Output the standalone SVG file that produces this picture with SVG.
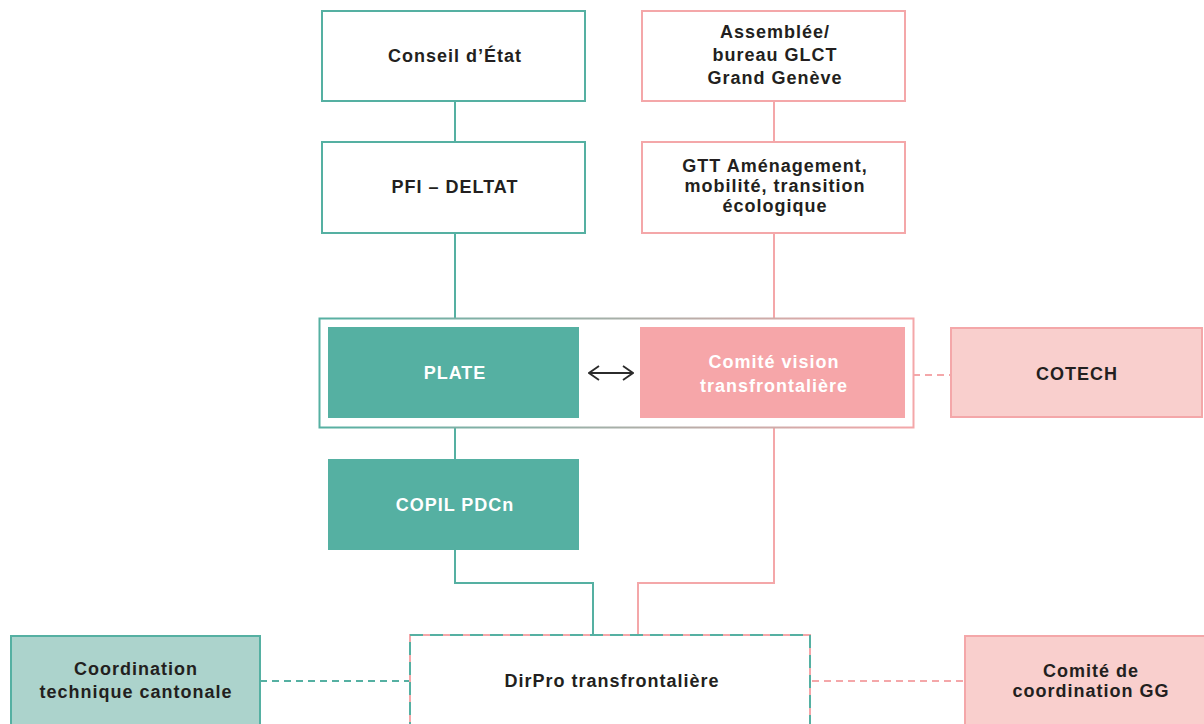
<svg xmlns="http://www.w3.org/2000/svg" width="1204" height="724" viewBox="0 0 1204 724">
<defs>
<linearGradient id="g" gradientUnits="userSpaceOnUse" x1="319" y1="0" x2="913" y2="0">
<stop offset="0" stop-color="#55b0a2"/><stop offset="0.45" stop-color="#9fb0a8"/><stop offset="1" stop-color="#f4a7a9"/>
</linearGradient>
<marker id="ah" viewBox="0 0 12 16" refX="11" refY="8" markerWidth="12" markerHeight="16" markerUnits="userSpaceOnUse" orient="auto-start-reverse">
<path d="M1,1 L11,8 L1,15" fill="none" stroke="#2b2b2b" stroke-width="1.8"/>
</marker>
<style>
text{font-family:"Liberation Sans",Arial,sans-serif;font-weight:bold;font-size:18px;letter-spacing:1px;fill:#231f20;text-anchor:middle}
.w{fill:#ffffff}
.tb{fill:#ffffff;stroke:#55b0a2;stroke-width:2}
.pb{fill:#ffffff;stroke:#f4a7a9;stroke-width:2}
.tf{fill:#55b0a2}
.pf{fill:#f6a6a9}
.lt{fill:#acd3cc;stroke:#55b0a2;stroke-width:2}
.lp{fill:#f9cfcd;stroke:#f4a7a9;stroke-width:2}
.tl{fill:none;stroke:#55b0a2;stroke-width:2}
.pl{fill:none;stroke:#f4a7a9;stroke-width:2}
.d{stroke-dasharray:7 5}
</style>
</defs>
<g id="connectors">
<path class="tl" d="M455,101 V142 M455,233 V319 M455,427 V459"/>
<path class="tl" d="M455,550 V583 H593 V635"/>
<path class="pl" d="M774,101 V142 M774,233 V319 M774,427 V583 H638 V635"/>
<path class="pl d" d="M913,375 H950"/>
<path class="tl d" d="M260,681 H410"/>
<path class="pl d" d="M812,681 H965"/>
<path d="M589,373 H633" fill="none" stroke="#2b2b2b" stroke-width="1.8" marker-start="url(#ah)" marker-end="url(#ah)"/>
</g>
<g id="container"><rect x="319.5" y="318.5" width="594" height="109" fill="none" stroke="url(#g)" stroke-width="2"/></g>
<g id="conseil"><rect class="tb" x="322" y="11" width="263" height="90"/><text x="455" y="62">Conseil d’État</text></g>
<g id="assemblee"><rect class="pb" x="642" y="11" width="263" height="90"/><text x="775" y="38">Assemblée/</text><text x="775" y="61">bureau GLCT</text><text x="775" y="84">Grand Genève</text></g>
<g id="pfi"><rect class="tb" x="322" y="142" width="263" height="91"/><text x="455" y="193">PFI – DELTAT</text></g>
<g id="gtt"><rect class="pb" x="642" y="142" width="263" height="91"/><text x="775" y="172">GTT Aménagement,</text><text x="775" y="192">mobilité, transition</text><text x="775" y="212">écologique</text></g>
<g id="plate"><rect class="tf" x="328" y="327" width="251" height="91"/><text class="w" x="455" y="379">PLATE</text></g>
<g id="comite-vision"><rect class="pf" x="640" y="327" width="265" height="91"/><text class="w" x="774" y="368">Comité vision</text><text class="w" x="774" y="392">transfrontalière</text></g>
<g id="cotech"><rect class="lp" x="951" y="328" width="251" height="89"/><text x="1077" y="380">COTECH</text></g>
<g id="copil"><rect class="tf" x="328" y="459" width="251" height="91"/><text class="w" x="455" y="511">COPIL PDCn</text></g>
<g id="coord-tech"><rect class="lt" x="11" y="636" width="249" height="100"/><text x="136" y="675">Coordination</text><text x="136" y="698">technique cantonale</text></g>
<g id="dirpro"><rect x="410" y="635" width="400" height="100" fill="#ffffff" stroke="#f4a7a9" stroke-width="2"/><rect x="410" y="635" width="400" height="100" fill="none" stroke="#55b0a2" stroke-width="2" stroke-dasharray="13 7"/><text x="612" y="687">DirPro transfrontalière</text></g>
<g id="comite-gg"><rect class="lp" x="965" y="636" width="250" height="100"/><text x="1091" y="677">Comité de</text><text x="1091" y="697">coordination GG</text></g>
</svg>
